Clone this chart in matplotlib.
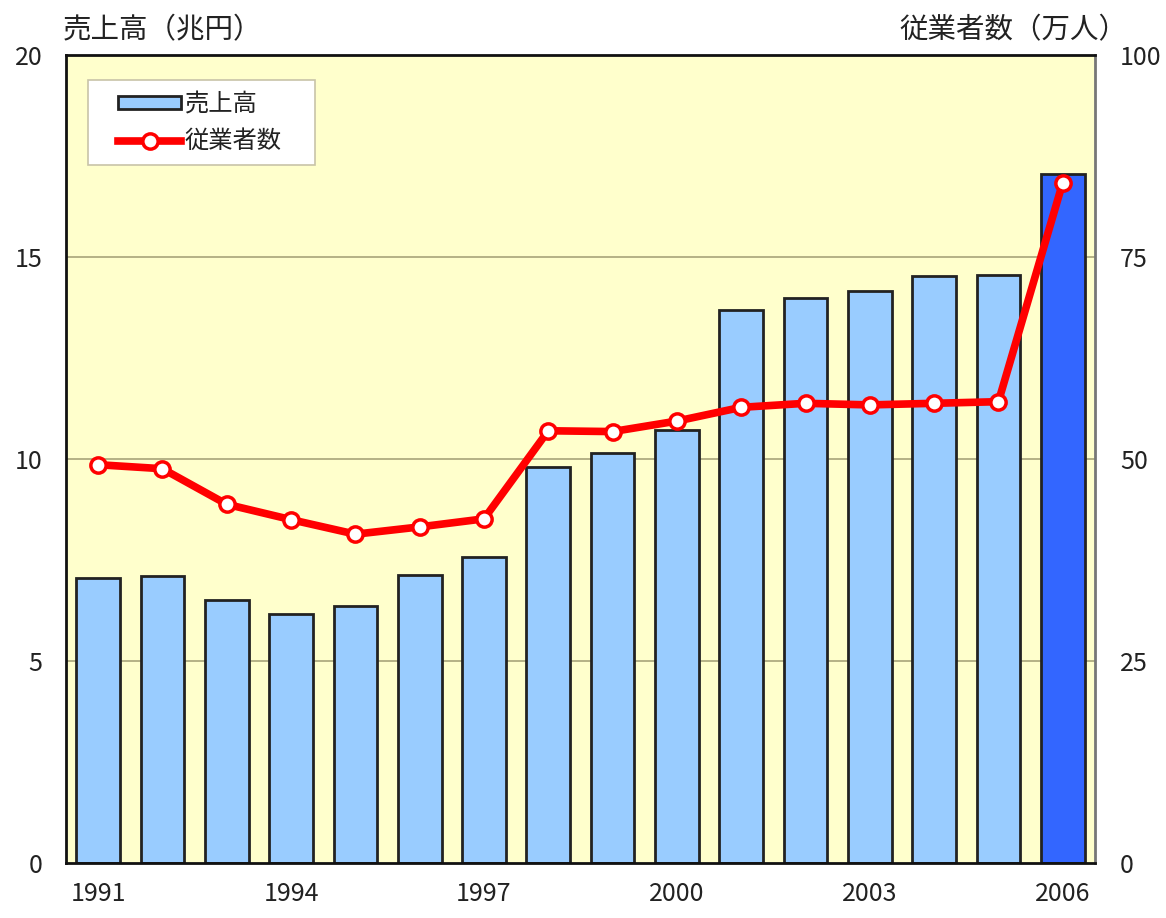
import matplotlib.pyplot as plt
from matplotlib.lines import Line2D
from matplotlib.patches import Patch, Rectangle

plt.rcParams["font.family"] = ["Noto Sans CJK JP", "DejaVu Sans"]

years = list(range(1991, 2007))
sales = [7.05, 7.1, 6.5, 6.17, 6.36, 7.12, 7.57, 9.8, 10.15, 10.72,
         13.7, 13.99, 14.17, 14.53, 14.55, 17.05]
employees = [49.3, 48.8, 44.4, 42.5, 40.7, 41.6, 42.6, 53.5, 53.4, 54.7,
             56.4, 56.9, 56.7, 56.9, 57.1, 84.2]
year_labels = ["1991", "1994", "1997", "2000", "2003", "2006"]

BAR_COLOR = "#99CCFF"
LAST_BAR_COLOR = "#3366FF"
LINE_COLOR = "#FF0000"
BG_COLOR = "#FFFFCC"
GRID_COLOR = "#A8A47A"
TEXT_COLOR = "#222222"

fig = plt.figure(figsize=(11.66, 9.18), dpi=100)
ax = fig.add_axes([0.0566, 0.0599, 0.8824, 0.8801])
ax.set_facecolor(BG_COLOR)

x = list(range(len(years)))
colors = [BAR_COLOR] * (len(years) - 1) + [LAST_BAR_COLOR]
ax.bar(x, sales, width=0.68, color=colors, edgecolor=TEXT_COLOR, linewidth=2, zorder=2)

ax.set_xlim(-0.5, len(years) - 0.5)
ax.set_ylim(0, 20)
ax.set_yticks([0, 5, 10, 15, 20])
ax.set_yticklabels(["0", "5", "10", "15", "20"])
for y in [5, 10, 15]:
    ax.axhline(y, color=GRID_COLOR, linewidth=1.2, zorder=1)

tick_pos = [years.index(int(y)) for y in year_labels]
ax.set_xticks(tick_pos)
ax.set_xticklabels(year_labels)
ax.tick_params(axis="both", length=0, labelsize=18, colors=TEXT_COLOR)
ax.tick_params(axis="x", pad=13)
ax.tick_params(axis="y", pad=17)

for side in ["left", "top", "bottom"]:
    ax.spines[side].set_color("#111111")
    ax.spines[side].set_linewidth(2)
ax.spines["right"].set_color("#777777")
ax.spines["right"].set_linewidth(2)

ax2 = ax.twinx()
ax2.plot(x, employees, color=LINE_COLOR, linewidth=5.5, marker="o", markersize=11,
         markerfacecolor="white", markeredgecolor=LINE_COLOR, markeredgewidth=2.5, zorder=3)
ax2.set_ylim(0, 100)
ax2.set_yticks([0, 25, 50, 75, 100])
ax2.tick_params(axis="y", length=0, labelsize=18, colors=TEXT_COLOR, pad=18)
for side in ["left", "top", "bottom", "right"]:
    ax2.spines[side].set_visible(False)

fig.text(0.054, 0.967, "売上高（兆円）", fontsize=20.5, color=TEXT_COLOR, va="center", ha="left")
fig.text(0.9665, 0.967, "従業者数（万人）", fontsize=20.5, color=TEXT_COLOR, va="center", ha="right")

# legend: white box plus a frameless legend inside it
ax.add_patch(Rectangle((0.0214, 0.8639), 0.2206, 0.1052, transform=ax.transAxes,
                       facecolor="white", edgecolor="#C8C4A8", linewidth=1.2, zorder=4))
handles = [
    Patch(facecolor=BAR_COLOR, edgecolor=TEXT_COLOR, linewidth=2),
    Line2D([0], [0], color=LINE_COLOR, linewidth=5.5, marker="o", markersize=11,
           markerfacecolor="white", markeredgecolor=LINE_COLOR, markeredgewidth=2.5),
]
leg = ax.legend(handles, ["売上高", "従業者数"], loc="upper left",
                bbox_to_anchor=(0.0505, 0.955), fontsize=17.5, frameon=False,
                handlelength=2.6, handleheight=0.45, borderpad=0,
                labelspacing=0.45, borderaxespad=0, handletextpad=0.15)
for t in leg.get_texts():
    t.set_color(TEXT_COLOR)
leg.set_zorder(5)

fig.savefig("out.png", dpi=100, facecolor="white")
